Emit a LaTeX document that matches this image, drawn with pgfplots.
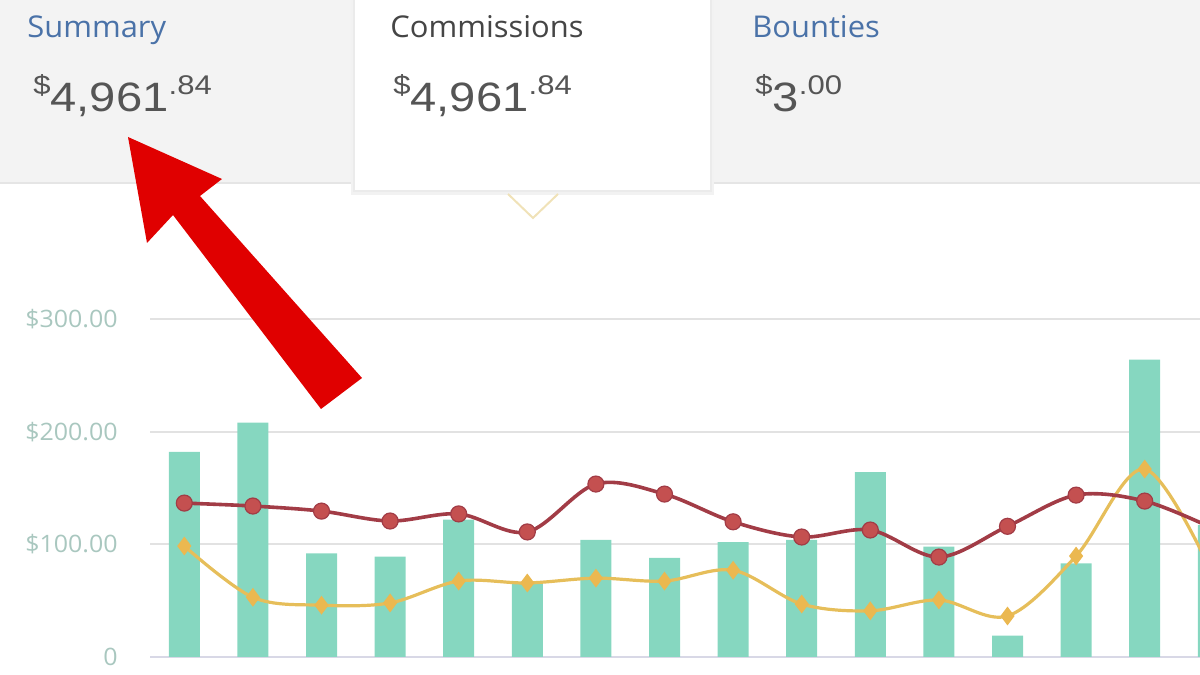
\documentclass[border=0pt]{standalone}
\usepackage{pgfplots}
\pgfplotsset{compat=1.18}
\usepackage{fontspec}
\setmainfont[FakeStretch=1.03]{Open Sans}
\newfontfamily\numfont[FakeStretch=1.15]{Liberation Sans}
\newfontfamily\labfont[FakeStretch=1.04]{Open Sans}
\definecolor{headbg}{HTML}{F3F3F3}
\definecolor{bluet}{HTML}{4A72A8}
\definecolor{grayt}{HTML}{555555}
\definecolor{darkt}{HTML}{454545}
\definecolor{barc}{HTML}{86D7C0}
\definecolor{redline}{HTML}{A23C46}
\definecolor{redmark}{HTML}{C45050}
\definecolor{yell}{HTML}{E6BE5A}
\definecolor{yellm}{HTML}{EBB850}
\definecolor{labc}{HTML}{A9C7BF}
\definecolor{gridc}{HTML}{E2E2E2}
\definecolor{basec}{HTML}{D8D8E6}
\definecolor{arrowc}{HTML}{E00000}
\definecolor{tric}{HTML}{F0E2B8}
\newcommand\money[2]{{\numfont\fontsize{13.5}{13.5}\selectfont\raisebox{8.5pt}{\$}}{\numfont\fontsize{20.5}{20.5}\selectfont #1}{\numfont\fontsize{13.5}{13.5}\selectfont\raisebox{8.5pt}{.#2}}}
\begin{document}
\begin{tikzpicture}
\useasboundingbox (0,0) rectangle (600pt,337.5pt);
\clip (0,0) rectangle (600pt,337.5pt);
\begin{scope}[shift={(0pt,337.5pt)},x=0.5pt,y=-0.5pt]
  \fill[headbg] (0,0) rectangle (1200,183);
  \draw[black!10, line width=1pt] (0,183) -- (1200,183);
  \fill[black!5] (351,0) rectangle (714,195);
  \fill[black!8] (353,0) rectangle (712,192);
  \fill[white] (355,0) rectangle (710,190);
  \draw[tric, line width=1pt] (508,194) -- (533,218) -- (558,194);
  \node[anchor=base west, inner sep=0pt, text=bluet, font=\fontsize{15}{15}\selectfont] at (27,38) {Summary};
  \node[anchor=base west, inner sep=0pt, text=darkt, font=\fontsize{15}{15}\selectfont] at (390,38) {Commissions};
  \node[anchor=base west, inner sep=0pt, text=bluet, font=\fontsize{15}{15}\selectfont] at (752,38) {Bounties};
  \node[anchor=base west, inner sep=0pt, text=grayt] at (33,112) {\money{4,961}{84}};
  \node[anchor=base west, inner sep=0pt, text=grayt] at (393,112) {\money{4,961}{84}};
  \node[anchor=base west, inner sep=0pt, text=grayt] at (755,112) {\money{3}{00}};
\end{scope}
\begin{axis}[
  at={(75pt,9pt)}, anchor=south west,
  scale only axis, width=548.8pt, height=169pt,
  xmin=-0.5, xmax=15.5, ymin=0, ymax=300,
  axis line style={draw=none},
  major tick length=0pt,
  xtick=\empty,
  ytick={0,100,200,300},
  yticklabels={0,\$100.00,\$200.00,\$300.00},
  yticklabel style={font=\labfont\fontsize{12}{12}\selectfont, text=labc, inner sep=0pt, anchor=east, xshift=-16pt},
  ymajorgrids, grid style={gridc, line width=1pt},
  clip=false,
]
\draw[basec, line width=1pt] (axis cs:-0.5,0) -- (axis cs:15.5,0);
\addplot[ybar, bar width=15.5pt, fill=barc, draw=none] coordinates {
(0,182) (1,208) (2,92) (3,89) (4,122) (5,66) (6,104) (7,88) (8,102) (9,104) (10,164) (11,98) (12,19) (13,83) (14,264) (15,117)};
\addplot[smooth, tension=0.55, color=yell, line width=1.6pt, mark=diamond*, mark size=3.4pt, mark options={fill=yellm, draw=yellm}] coordinates {
(0,98.5) (1,53) (2,46) (3,48) (4,67.4) (5,65.7) (6,70) (7,67.4) (8,77) (9,47) (10,41) (11,50.6) (12,36.4) (13,89.6) (14,166.8) (15,72)};
\addplot[smooth, tension=0.55, color=redline, line width=1.8pt, mark=*, mark size=4pt, mark options={fill=redmark, draw=redline, line width=0.6pt}] coordinates {
(0,136.6) (1,134) (2,129.5) (3,120.7) (4,127) (5,111) (6,153.5) (7,144.6) (8,120) (9,106.5) (10,112.7) (11,88.7) (12,116) (13,143.7) (14,138.4) (15,114)};
\end{axis}
\begin{scope}[shift={(0pt,337.5pt)},x=0.5pt,y=-0.5pt]
  \fill[arrowc] (128,137) -- (222,179) -- (200,196) -- (362,378) -- (321,409) -- (173,215) -- (147,243) -- cycle;
\end{scope}
\end{tikzpicture}
\end{document}
